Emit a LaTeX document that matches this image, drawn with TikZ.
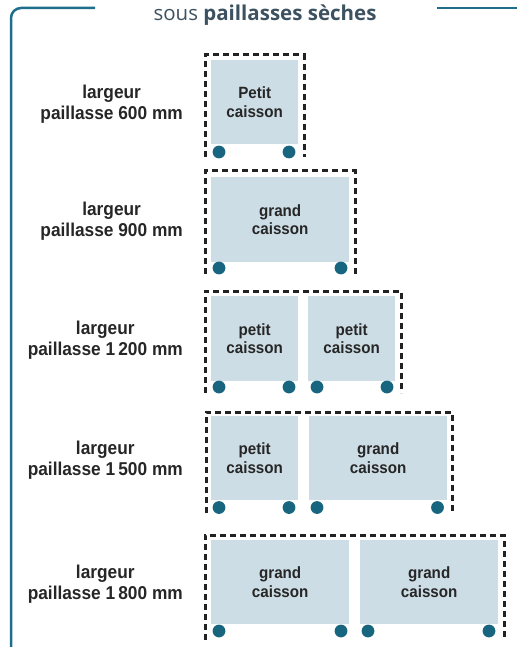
\documentclass[tikz,border=0pt]{standalone}
\usepackage{fontspec}
\newfontfamily\labfont{Liberation Sans}[FakeStretch=0.93]
\newfontfamily\ttlfont{Open Sans}
\definecolor{frameblue}{HTML}{1F6E8C}
\definecolor{wheelblue}{HTML}{18657F}
\definecolor{boxfill}{HTML}{CDDDE5}
\definecolor{txtdark}{HTML}{262626}
\definecolor{dashcol}{HTML}{222222}
\definecolor{ttlcol}{HTML}{3D5260}
\begin{document}
\begin{tikzpicture}[x=1pt,y=-1pt,
  frameline/.style={draw=frameblue,line width=2.5pt},
  dashbox/.style={draw=dashcol,line width=3pt,dash pattern=on 6pt off 4pt},
  caisson/.style={fill=boxfill,draw=none,inner sep=0pt,anchor=north west,align=center,text=txtdark,
    font=\labfont\bfseries\fontsize{16.3}{18.4}\selectfont},
  wheel/.style={circle,fill=wheelblue,draw=none,inner sep=0pt,minimum size=12.8pt},
  lab/.style={align=center,anchor=east,inner sep=0pt,text=txtdark,font=\labfont\bfseries\fontsize{18.6}{20.6}\selectfont}]
\useasboundingbox (0,0) rectangle (516,647);
% frame
\coordinate (fa) at (95,8);
\coordinate (fb) at (11,8);
\coordinate (fc) at (11,660);
\coordinate (fd) at (437,8);
\coordinate (fe) at (520,8);
\draw[frameline,rounded corners=10pt] (fa) -- (fb) -- (fc);
\draw[frameline] (fd) -- (fe);
\node[font=\ttlfont\fontsize{20.5}{22}\selectfont,text=ttlcol] (title) at (265,15.5) {sous \textbf{paillasses sèches}};
% row 1
\draw[dashbox] (205,157) -- (205,55) -- (304,55) -- (304,157);
\node[caisson,minimum width=87pt,minimum height=84pt] (c1) at (211,60) {Petit\\caisson};
\node[wheel] (w1a) at (219,152) {};
\node[wheel] (w1b) at (289,152) {};
\node[lab] (l1) at (183,104) {largeur\\paillasse 600 mm};
% row 2
\draw[dashbox] (205,274) -- (205,171) -- (355,171) -- (355,274);
\node[caisson,minimum width=138pt,minimum height=85pt] (c2) at (211,177) {grand\\caisson};
\node[wheel] (w2a) at (219,268) {};
\node[wheel] (w2b) at (341,268) {};
\node[lab] (l2) at (183,221) {largeur\\paillasse 900 mm};
% row 3
\draw[dashbox] (205,393) -- (205,291) -- (401,291) -- (401,393);
\node[caisson,minimum width=87pt,minimum height=85pt] (c3a) at (211,296) {petit\\caisson};
\node[caisson,minimum width=87pt,minimum height=85pt] (c3b) at (308,296) {petit\\caisson};
\node[wheel] (w3a) at (219,387) {};
\node[wheel] (w3b) at (289,387) {};
\node[wheel] (w3c) at (317,387) {};
\node[wheel] (w3d) at (387,387) {};
\node[lab] (l3) at (183,340) {largeur\\paillasse 1\,200 mm};
% row 4
\draw[dashbox] (206,513) -- (206,412) -- (452,412) -- (452,513);
\node[caisson,minimum width=87pt,minimum height=84pt] (c4a) at (211,416) {petit\\caisson};
\node[caisson,minimum width=138pt,minimum height=84pt] (c4b) at (309,416) {grand\\caisson};
\node[wheel] (w4a) at (219,507.5) {};
\node[wheel] (w4b) at (289,507.5) {};
\node[wheel] (w4c) at (317,507.5) {};
\node[wheel] (w4d) at (437.5,507.5) {};
\node[lab] (l4) at (183,460) {largeur\\paillasse 1\,500 mm};
% row 5
\draw[dashbox] (205,640) -- (205,535) -- (504,535) -- (504,640);
\node[caisson,minimum width=138pt,minimum height=84pt] (c5a) at (211,540) {grand\\caisson};
\node[caisson,minimum width=138pt,minimum height=84pt] (c5b) at (360,540) {grand\\caisson};
\node[wheel] (w5a) at (219,631) {};
\node[wheel] (w5b) at (341,631) {};
\node[wheel] (w5c) at (368,631) {};
\node[wheel] (w5d) at (489,631) {};
\node[lab] (l5) at (183,584) {largeur\\paillasse 1\,800 mm};
\end{tikzpicture}
\end{document}
